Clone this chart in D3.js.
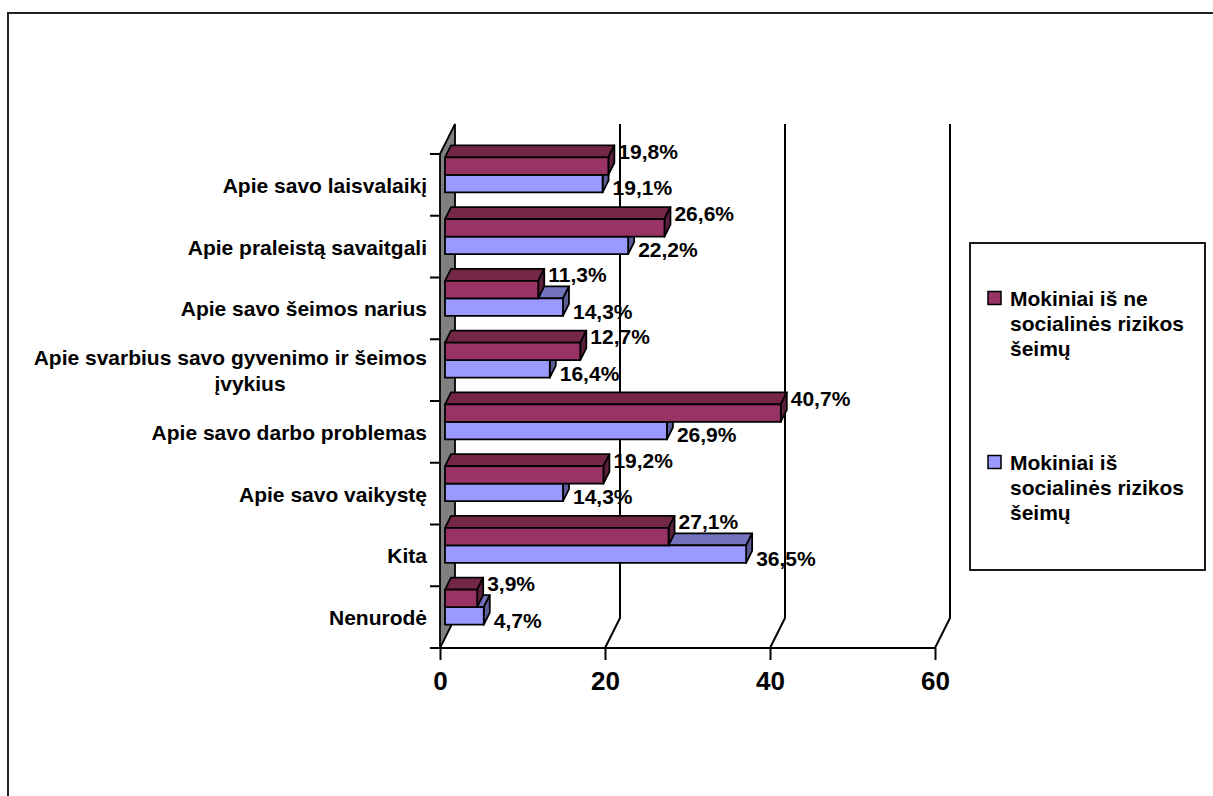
<!DOCTYPE html>
<html>
<head>
<meta charset="utf-8">
<script src="https://cdn.jsdelivr.net/npm/d3@7"></script>
<style>
  html, body { margin: 0; padding: 0; background: #fff; }
  svg { display: block; }
  text { font-family: "Liberation Sans", Arial, sans-serif; font-weight: bold; fill: #000; }
</style>
</head>
<body>
<svg id="chart" width="1213" height="796"></svg>
<script>
// ---------- data ----------
const categories = [
  "Apie savo laisvalaikį",
  "Apie praleistą savaitgali",
  "Apie savo šeimos narius",
  "Apie svarbius savo gyvenimo ir šeimos įvykius",
  "Apie savo darbo problemas",
  "Apie savo vaikystę",
  "Kita",
  "Nenurodė"
];
const seriesNames = [
  "Mokiniai iš ne socialinės rizikos šeimų",
  "Mokiniai iš socialinės rizikos šeimų"
];
const valuesNotRisk = [19.8, 26.6, 11.3, 16.4, 40.7, 19.2, 27.1, 3.9];
const valuesRisk    = [19.1, 22.2, 14.3, 12.7, 26.9, 14.3, 36.5, 4.7];
const labelsNotRisk = ["19,8%", "26,6%", "11,3%", "12,7%", "40,7%", "19,2%", "27,1%", "3,9%"];
const labelsRisk    = ["19,1%", "22,2%", "14,3%", "16,4%", "26,9%", "14,3%", "36,5%", "4,7%"];
const xTicks = [0, 20, 40, 60];

// ---------- styles ----------
const colors = ["#993366", "#9999FF"];
const topColors = ["#732646", "#7373BF"];
const sideColors = ["#5C1F3D", "#5C5C99"];

const svg = d3.select("#chart");

// outer border
svg.append("rect").attr("x", 8).attr("y", 13).attr("width", 1230).attr("height", 800)
  .attr("fill", "none").attr("stroke", "#222").attr("stroke-width", 2);

// scales
const x = d3.scaleLinear().domain([0, 60]).range([440, 935]);
const y = d3.scaleBand().domain(categories).range([154, 648]).padding(0);
const ys = d3.scaleBand().domain(seriesNames).range([0, y.bandwidth()]).paddingInner(0).paddingOuter(0.764);

const wall = { dx: 15, dy: -30 };
const barOff = { dx: 5, dy: -10 };
const barDepth = { dx: 6, dy: -12 };
const backTop = 124; // back wall top
const floorY = y.range()[1];

// side wall (gray)
const x0 = x(0);
svg.append("path")
  .attr("d", `M${x0},${y.range()[0]} L${x0 + wall.dx},${y.range()[0] + wall.dy} L${x0 + wall.dx},${floorY + wall.dy} L${x0},${floorY} Z`)
  .attr("fill", "#808080").attr("stroke", "#000").attr("stroke-width", 1.8).attr("stroke-linejoin", "miter");

// gridlines (floor diagonal + back vertical)
svg.append("g").selectAll("path").data(xTicks.filter(d => d > 0)).join("path")
  .attr("d", d => `M${x(d)},${floorY} L${x(d) + wall.dx},${floorY + wall.dy} L${x(d) + wall.dx},${backTop}`)
  .attr("fill", "none").attr("stroke", "#000").attr("stroke-width", 2);

// x axis
const xAxis = d3.axisBottom(x).tickValues(xTicks).tickSize(12).tickPadding(12).tickFormat(d3.format("d"));
const gx = svg.append("g").attr("transform", `translate(0,${floorY})`).call(xAxis);
gx.select(".domain").remove();
gx.selectAll(".tick line").attr("stroke", "#000").attr("stroke-width", 2);
gx.selectAll(".tick text").style("font-size", "26px").style("font-family", "'Liberation Sans', Arial, sans-serif").style("font-weight", "bold").attr("fill", "#000");
// floor front line
svg.append("line").attr("x1", x0 - 10).attr("x2", x(60)).attr("y1", floorY).attr("y2", floorY)
  .attr("stroke", "#000").attr("stroke-width", 2);

// y axis: boundary ticks
const bounds = categories.map(c => y(c)).concat([floorY]);
svg.append("g").selectAll("line").data(bounds).join("line")
  .attr("x1", x0 - 10).attr("x2", x0).attr("y1", d => d).attr("y2", d => d)
  .attr("stroke", "#000").attr("stroke-width", 2);

// category labels
const labelRight = 427;
const catG = svg.append("g");
categories.forEach(c => {
  const t = catG.append("text").style("font-size", "21px").attr("dominant-baseline", "central");
  const words = c.split(" ");
  let lines = [], line = [];
  const probe = catG.append("text").style("font-size", "21px");
  words.forEach(w => {
    const test = line.concat([w]).join(" ");
    probe.text(test);
    if (probe.node().getComputedTextLength() > 410 && line.length) { lines.push(line.join(" ")); line = [w]; }
    else line.push(w);
  });
  lines.push(line.join(" "));
  probe.remove();
  const cy = y(c) + y.bandwidth() / 2;
  const lh = 26;
  lines.forEach((ln, i) => {
    const ty = cy + (i - (lines.length - 1) / 2) * lh;
    if (i === 0) {
      t.append("tspan").attr("x", labelRight).attr("y", ty).attr("text-anchor", "end").text(ln);
    } else {
      t.append("tspan").attr("x", labelRight - 177).attr("y", ty).attr("text-anchor", "middle").text(ln);
    }
  });
  if (lines.length === 1) t.attr("text-anchor", "end");
});

// bars
const seriesVals = [valuesNotRisk, valuesRisk];
const seriesLabels = [labelsNotRisk, labelsRisk];
const barsG = svg.append("g");
const order = d3.range(categories.length).reverse();
order.forEach(i => {
  [1, 0].forEach(s => {
    const v = seriesVals[s][i];
    const bx0 = x(0) + barOff.dx;
    const bx1 = x(v) + barOff.dx;
    const by = y(categories[i]) + ys(seriesNames[s]) + barOff.dy;
    const h = ys.bandwidth();
    const g = barsG.append("g").attr("stroke", "#000").attr("stroke-width", 1.8).attr("stroke-linejoin", "round");
    g.append("path")
      .attr("d", `M${bx0},${by} L${bx0 + barDepth.dx},${by + barDepth.dy} L${bx1 + barDepth.dx},${by + barDepth.dy} L${bx1},${by} Z`)
      .attr("fill", topColors[s]);
    g.append("path")
      .attr("d", `M${bx1},${by} L${bx1 + barDepth.dx},${by + barDepth.dy} L${bx1 + barDepth.dx},${by + h + barDepth.dy} L${bx1},${by + h} Z`)
      .attr("fill", sideColors[s]);
    g.append("rect").attr("x", bx0).attr("y", by).attr("width", bx1 - bx0).attr("height", h)
      .attr("fill", colors[s]);
  });
});

// value labels
const labG = svg.append("g");
categories.forEach((c, i) => {
  [0, 1].forEach(s => {
    const v = seriesVals[s][i];
    const bx1 = x(v) + barOff.dx;
    const by = y(c) + ys(seriesNames[s]) + barOff.dy;
    const ly = s === 0 ? by - 6 : by + 13;
    const lx = s === 0 ? bx1 + 10 : bx1 + 10;
    labG.append("text").attr("x", lx).attr("y", ly).attr("dominant-baseline", "central")
      .style("font-size", "21px").text(seriesLabels[s][i]);
  });
});

// legend
const lg = svg.append("g");
lg.append("rect").attr("x", 970).attr("y", 243).attr("width", 235).attr("height", 327)
  .attr("fill", "#fff").attr("stroke", "#000").attr("stroke-width", 1.8);
const legendY = [298, 462];
seriesNames.forEach((name, s) => {
  lg.append("rect").attr("x", 988).attr("y", legendY[s] - 6.5).attr("width", 13).attr("height", 13)
    .attr("fill", colors[s]).attr("stroke", "#000").attr("stroke-width", 1.5);
  const probe = lg.append("text").style("font-size", "21px");
  const words = name.split(" ");
  let lines = [], line = [];
  words.forEach(w => {
    probe.text(line.concat([w]).join(" "));
    if (probe.node().getComputedTextLength() > 192 && line.length) { lines.push(line.join(" ")); line = [w]; }
    else line.push(w);
  });
  lines.push(line.join(" "));
  probe.remove();
  const t = lg.append("text").style("font-size", "21px").attr("dominant-baseline", "central");
  lines.forEach((ln, i) => {
    t.append("tspan").attr("x", 1010).attr("y", legendY[s] + i * 25).text(ln);
  });
});
</script>
</body>
</html>
